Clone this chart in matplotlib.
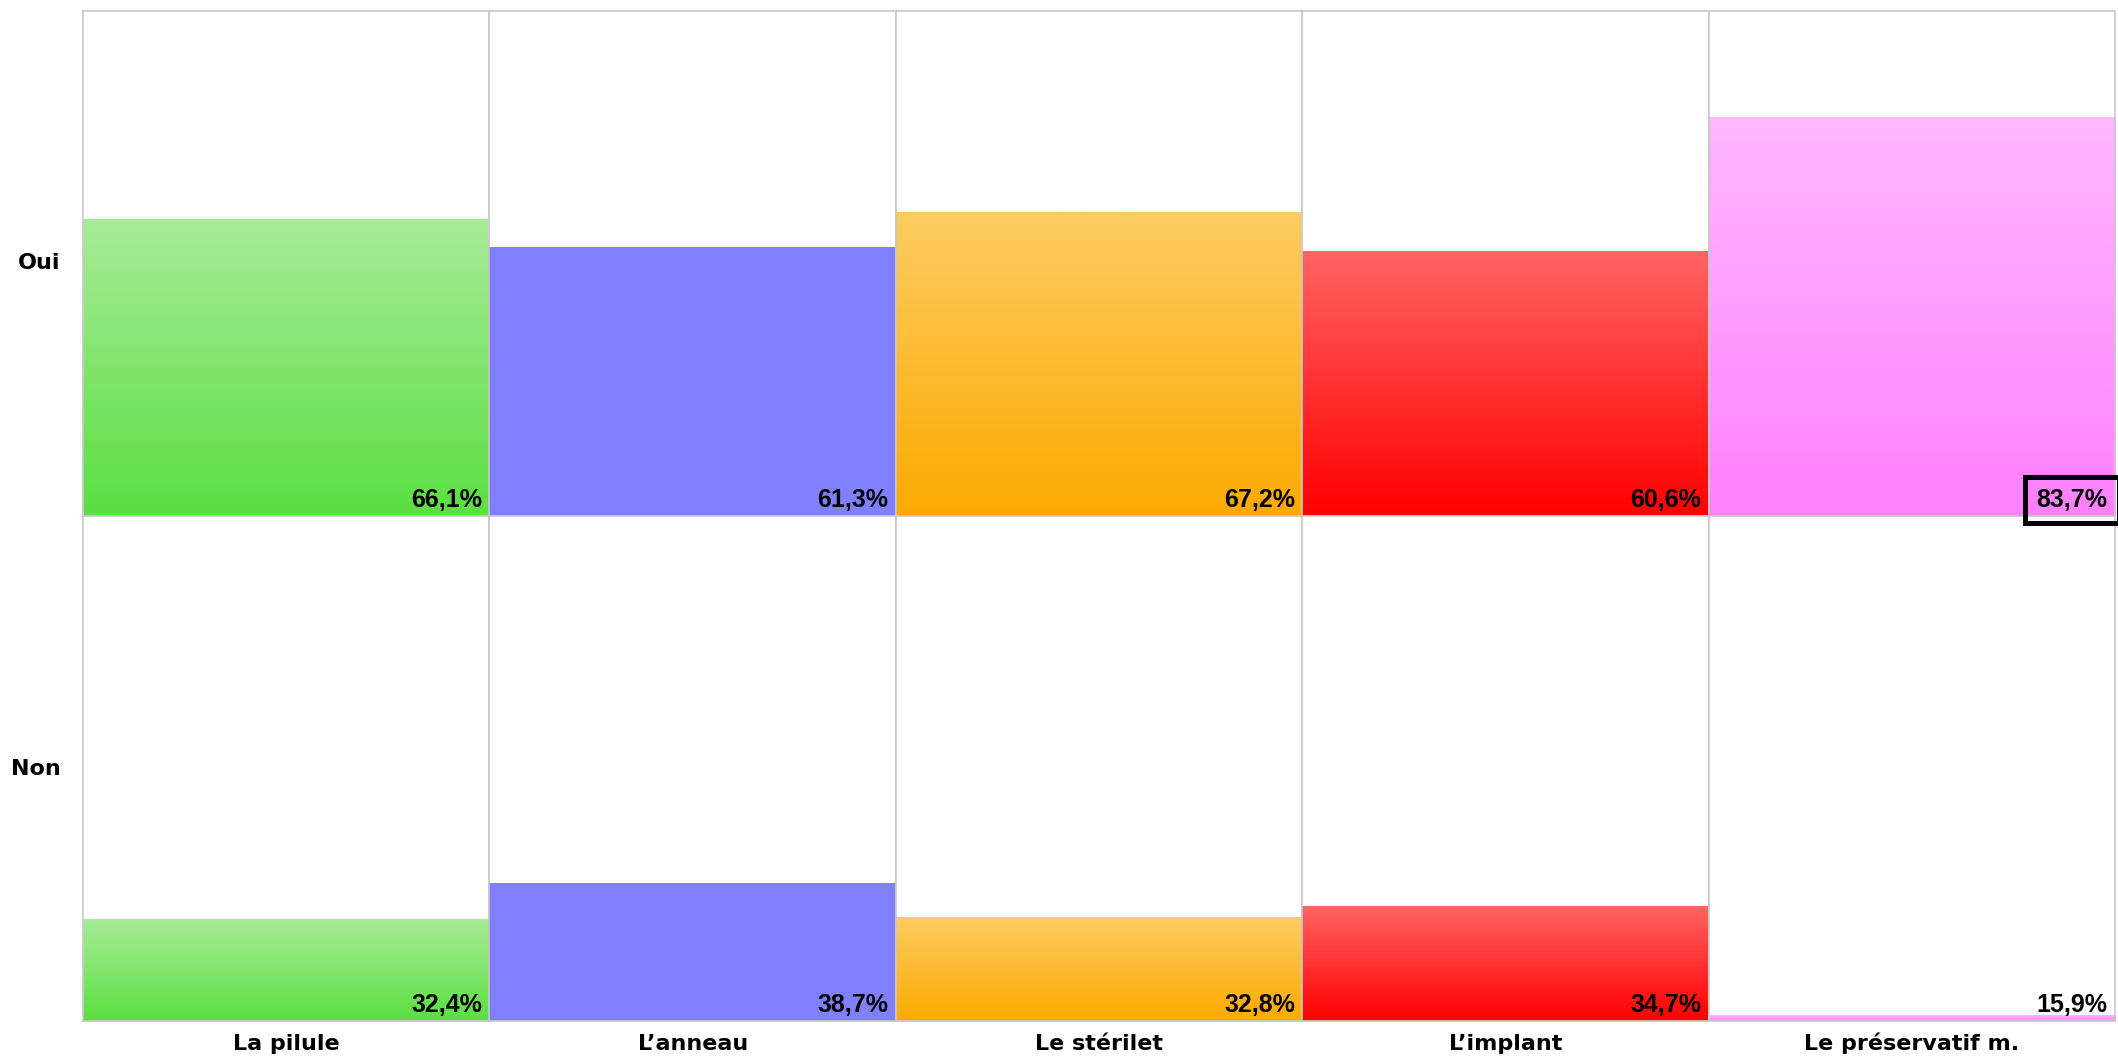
import matplotlib.pyplot as plt
import numpy as np
from matplotlib.colors import LinearSegmentedColormap

categories = ['La pilule', 'L\u2019anneau', 'Le stérilet', 'L\u2019implant', 'Le préservatif m.']
rows = ['Oui', 'Non']
oui = [0.661, 0.613, 0.672, 0.606, 0.837]
non = [0.324, 0.387, 0.328, 0.347, 0.159]
labels_oui = ['66,1%', '61,3%', '67,2%', '60,6%', '83,7%']
labels_non = ['32,4%', '38,7%', '32,8%', '34,7%', '15,9%']

# couleurs haut -> bas de chaque barre
grad = [('#a8eb98', '#5bdf42'),
        ('#8080ff', '#8080ff'),
        ('#fecc62', '#fcaa00'),
        ('#ff6464', '#ff0000'),
        ('#ffb8ff', '#ff80ff')]

ymin, ymax = 0.15, 1.02

fig, axes = plt.subplots(2, 5, figsize=(21.18, 10.56), dpi=100)
fig.subplots_adjust(left=0.0392, right=0.9986, top=0.9896, bottom=0.0331, wspace=0, hspace=0)
axes[0, 4].set_zorder(5)

for r, (vals, labs) in enumerate([(oui, labels_oui), (non, labels_non)]):
    for c in range(5):
        ax = axes[r, c]
        cmap = LinearSegmentedColormap.from_list('g', [grad[c][1], grad[c][0]])
        g = np.linspace(0, 1, 256).reshape(-1, 1)
        ax.imshow(g, cmap=cmap, origin='lower', aspect='auto',
                  extent=(-0.5, 0.5, ymin, vals[c]), zorder=1)
        ax.set_xlim(-0.5, 0.5)
        ax.set_ylim(ymin, ymax)
        ax.set_xticks([])
        ax.set_yticks([])
        for s in ax.spines.values():
            s.set_color('#c8c8c8')
            s.set_linewidth(1.2)
        kw = dict(transform=ax.transAxes, ha='right', va='bottom', fontsize=18,
                  fontweight='bold', family='Liberation Sans', zorder=3)
        if r == 0 and c == 4:
            ax.text(0.982, 0.008, labs[c], bbox=dict(boxstyle='square,pad=0.45', fc='none',
                    ec='black', lw=3.6), clip_on=False, **kw)
        else:
            ax.text(0.982, 0.008, labs[c], **kw)
        if r == 1:
            ax.text(0.5, -0.057, categories[c], transform=ax.transAxes, ha='center',
                    va='baseline', fontsize=16, fontweight='bold')
    axes[r, 0].text(-0.055, 0.5, rows[r], transform=axes[r, 0].transAxes, ha='right',
                    va='center', fontsize=16, fontweight='bold')

fig.savefig('out.png')
